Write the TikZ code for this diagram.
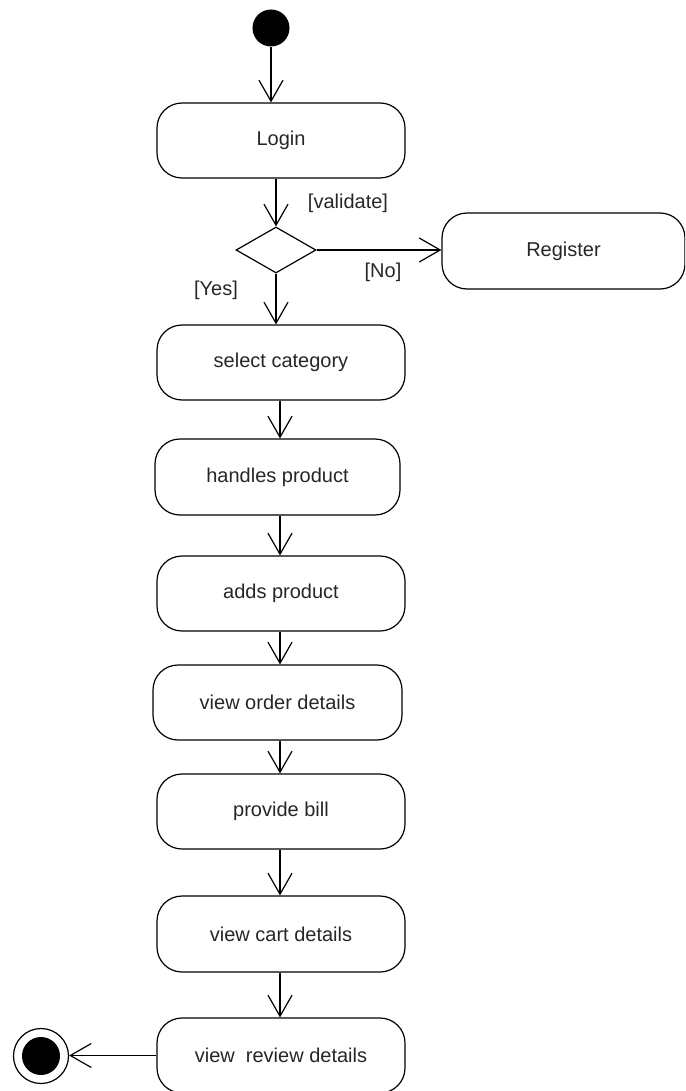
\documentclass[tikz,border=0pt]{standalone}
\usepackage{fontspec}
\setmainfont{Liberation Sans}
\usetikzlibrary{arrows.meta,shapes.geometric}
\begin{document}
\begin{tikzpicture}[x=1pt,y=-1pt,
  every node/.style={font=\fontsize{20}{24}\selectfont, text=black!85},
  act/.style={draw, rounded corners=25pt, line width=1.2pt, minimum width=248pt, minimum height=75pt, inner sep=0pt},
  flow/.style={line width=1.2pt, -{Straight Barb[length=21pt,width=24pt]}},
  lbl/.style={inner sep=0pt}]
\useasboundingbox (0,0) rectangle (685,1091);
\clip (0,0) rectangle (685,1091);
% start
\node[circle, fill=black, minimum size=37pt, inner sep=0pt] (start) at (271,28) {};
% activities
\node[act] (login) at (281,140.5) {Login};
\node[draw, diamond, aspect=1.74, minimum width=80pt, minimum height=46pt, inner sep=0pt, line width=1.2pt] (dec) at (276,250) {};
\node[act, minimum width=243pt, minimum height=76pt] (reg) at (563.5,251) {Register};
\node[act] (sel) at (281,362.5) {select category};
\node[act, minimum width=245pt, minimum height=76pt] (hand) at (277.5,477) {handles product};
\node[act] (adds) at (281,593.5) {adds product};
\node[act, minimum width=249pt] (order) at (277.5,702.5) {view order details};
\node[act] (bill) at (281,811.5) {provide bill};
\node[act, minimum height=76pt] (cart) at (281,934) {view cart details};
\node[act] (rev) at (281,1055.5) {view\ \ review details};
% end
\node[circle, draw, line width=1.2pt, minimum size=55pt, inner sep=0pt] (end) at (41,1056) {};
\fill (end.center) circle (19pt);
% guide coordinate
\coordinate (ax) at (280,0);
% connectors
\draw[flow] (start.south) -- (start |- login.north);
\draw[flow] (dec |- login.south) -- (dec.north);
\draw[flow] (dec.east) -- (dec.east -| reg.west);
\draw[flow] (dec.south) -- (dec |- sel.north);
\draw[flow] (sel.south -| ax) -- (hand.north -| ax);
\draw[flow] (hand.south -| ax) -- (adds.north -| ax);
\draw[flow] (adds.south -| ax) -- (order.north -| ax);
\draw[flow] (order.south -| ax) -- (bill.north -| ax);
\draw[flow] (bill.south -| ax) -- (cart.north -| ax);
\draw[flow] (cart.south -| ax) -- (rev.north -| ax);
\draw[flow] (rev.west) -- (rev.west -| end.east);
% guard labels
\node[lbl] (lval) at (348,203) {[validate]};
\node[lbl] (lno) at (383,272) {[No]};
\node[lbl] (lyes) at (216,290) {[Yes]};
\end{tikzpicture}
\end{document}
